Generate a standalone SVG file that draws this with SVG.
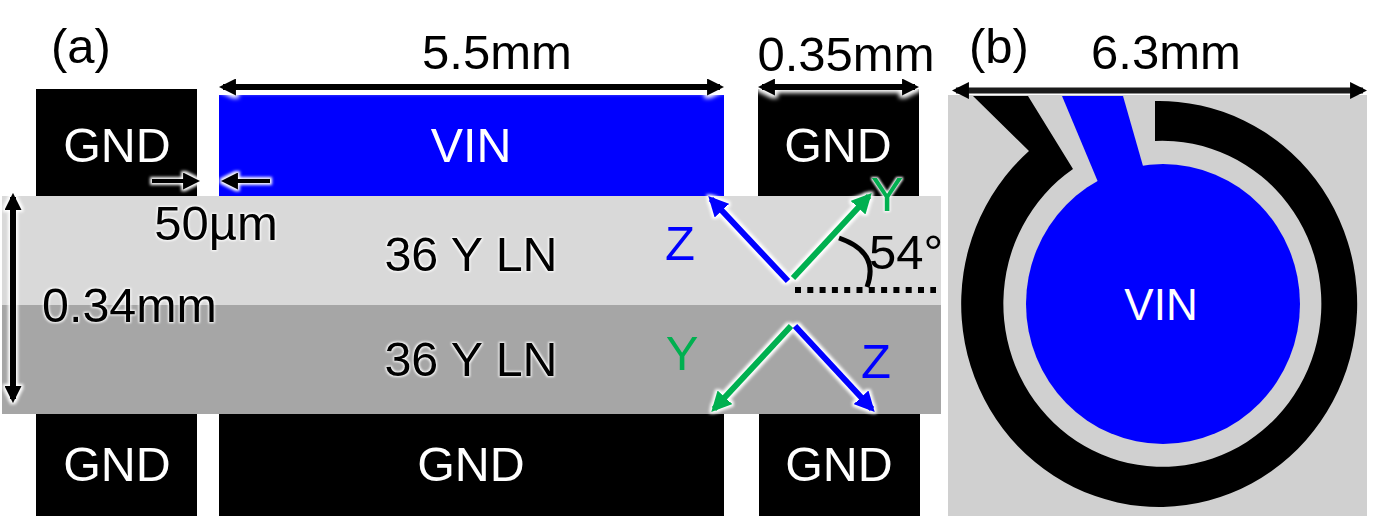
<svg xmlns="http://www.w3.org/2000/svg" width="1381" height="529" viewBox="0 0 1381 529">
<style>
text{font-family:"Liberation Sans",Arial,sans-serif;font-size:49px;text-anchor:middle}
.n{font-size:48.400px}
.w{fill:#fff}.k{fill:#000}.gl{filter:url(#glow)}
.blk{fill:#000}
.a{fill:none;stroke-width:6}
.th{stroke-width:4}
.ak{stroke:#000}.ab{stroke:#00f}.ag{stroke:#00b050}
</style>
<defs>
<filter id="glow" x="-30%" y="-30%" width="160%" height="160%" color-interpolation-filters="sRGB">
<feMorphology in="SourceAlpha" operator="dilate" radius="1" result="d"/>
<feGaussianBlur in="d" stdDeviation="1.2" result="b"/>
<feFlood flood-color="#fff"/>
<feComposite in2="b" operator="in" result="c"/>
<feMerge><feMergeNode in="c"/><feMergeNode in="SourceGraphic"/></feMerge>
</filter>
<filter id="glowA" filterUnits="userSpaceOnUse" x="0" y="150" width="1381" height="290" color-interpolation-filters="sRGB">
<feMorphology in="SourceAlpha" operator="dilate" radius="1.5" result="d"/>
<feGaussianBlur in="d" stdDeviation="1.6" result="b"/>
<feFlood flood-color="#fff"/>
<feComposite in2="b" operator="in" result="c"/>
<feMerge><feMergeNode in="c"/><feMergeNode in="SourceGraphic"/></feMerge>
</filter>
<filter id="glowT" filterUnits="userSpaceOnUse" x="200" y="60" width="1181" height="60" color-interpolation-filters="sRGB">
<feMorphology in="SourceAlpha" operator="dilate" radius="2.500" result="d"/>
<feGaussianBlur in="d" stdDeviation="2.200" result="b"/>
<feFlood flood-color="#fff"/>
<feComposite in2="b" operator="in" result="c"/>
<feMerge><feMergeNode in="c"/><feMergeNode in="SourceGraphic"/></feMerge>
</filter>
<marker id="mk" viewBox="0 0 10 10" refX="7.6" refY="5" markerWidth="17" markerHeight="17" markerUnits="userSpaceOnUse" orient="auto-start-reverse"><path d="M0 0L10 5L0 10Z" fill="#000"/></marker>
<marker id="mb" viewBox="0 0 10 10" refX="8" refY="5" markerWidth="20" markerHeight="20" markerUnits="userSpaceOnUse" orient="auto"><path d="M0 0L10 5L0 10Z" fill="#00f"/></marker>
<marker id="mg" viewBox="0 0 10 10" refX="8" refY="5" markerWidth="20" markerHeight="20" markerUnits="userSpaceOnUse" orient="auto"><path d="M0 0L10 5L0 10Z" fill="#00b050"/></marker>
</defs>
<rect width="1381" height="529" fill="#fff"/>
<g id="layer-upper"><rect x="2" y="196" width="939" height="109" fill="#d9d9d9"/></g>
<g id="layer-lower"><rect x="2" y="305" width="939" height="109" fill="#a6a6a6"/></g>
<g id="gnd-top-left"><rect class="blk" x="36" y="89" width="161" height="107"/><text class="w n" x="117" y="162">GND</text></g>
<g id="vin-top"><rect x="219" y="95" width="505" height="101" fill="#00f"/><text class="w n" x="471" y="162">VIN</text></g>
<g id="gnd-top-right"><rect class="blk" x="758" y="89" width="161" height="107"/><text class="w n" x="838" y="162">GND</text></g>
<g id="gnd-bottom-left"><rect class="blk" x="36" y="414" width="161" height="102"/><text class="w n" x="117" y="481">GND</text></g>
<g id="gnd-bottom-mid"><rect class="blk" x="219" y="414" width="505" height="102"/><text class="w n" x="471" y="481">GND</text></g>
<g id="gnd-bottom-right"><rect class="blk" x="759" y="414" width="161" height="102"/><text class="w n" x="839" y="481">GND</text></g>
<g id="panel-b">
<rect x="948" y="95" width="419" height="421" fill="#d0d0d0"/>
<path class="blk" d="M1155 101A198 203 0 1 1 1029 151L973 96L1028 96L1073 169A159 163 0 1 0 1155 141Z"/>
<path fill="#00f" d="M1062 96L1123 96L1143 166L1098 182Z"/>
<ellipse cx="1163" cy="304" rx="137" ry="140" fill="#00f"/>
<text class="w" x="1161" y="320" style="font-size:44px">VIN</text>
</g>
<g id="connectors">
<g style="filter:url(#glowT)">
<path class="a ak" d="M223 87H720" marker-start="url(#mk)" marker-end="url(#mk)"/>
<path class="a ak" d="M762 87H915" marker-start="url(#mk)" marker-end="url(#mk)"/>
</g>
<g style="filter:url(#glowA)">
<path class="a ak" d="M13 197V399" marker-start="url(#mk)" marker-end="url(#mk)"/>
<path class="a ak th" d="M152 181H196" marker-end="url(#mk)"/>
<path class="a ak th" d="M270 181H225" marker-end="url(#mk)"/>
<path class="a ab" d="M788 281L711 199" marker-end="url(#mb)"/>
<path class="a ag" d="M793 278L869 196" marker-end="url(#mg)"/>
<path class="a ag" d="M791 326L714 409" marker-end="url(#mg)"/>
<path class="a ab" d="M795 326L872 409" marker-end="url(#mb)"/>
</g>
<path class="a" style="stroke:#1a1a1a" d="M956 90.500H1363" marker-start="url(#mk)" marker-end="url(#mk)"/>
<path fill="none" stroke="#000" stroke-width="6" stroke-dasharray="6 6.3" d="M795 290H936"/>
<path fill="none" stroke="#000" stroke-width="5" d="M839 238Q880 252 867 287"/>
</g>
<g id="labels">
<text class="k" x="81" y="63">(a)</text>
<text class="k" x="497" y="69">5.5mm</text>
<text class="k" x="846" y="71">0.35mm</text>
<text class="k" x="999" y="63">(b)</text>
<text class="k" x="1166" y="69">6.3mm</text>
<text class="k gl" x="216" y="240">50µm</text>
<text class="k gl n" x="129.500" y="322">0.34mm</text>
<text class="k gl n" x="471" y="271">36 Y LN</text>
<text class="k gl n" x="471" y="376">36 Y LN</text>
<text x="680" y="260" fill="#00f">Z</text>
<text x="887" y="211" fill="#00b050" class="gl">Y</text>
<text class="k" x="906" y="269">54°</text>
<text x="682" y="370" fill="#00b050">Y</text>
<text x="876" y="378" fill="#00f">Z</text>
</g>
</svg>
